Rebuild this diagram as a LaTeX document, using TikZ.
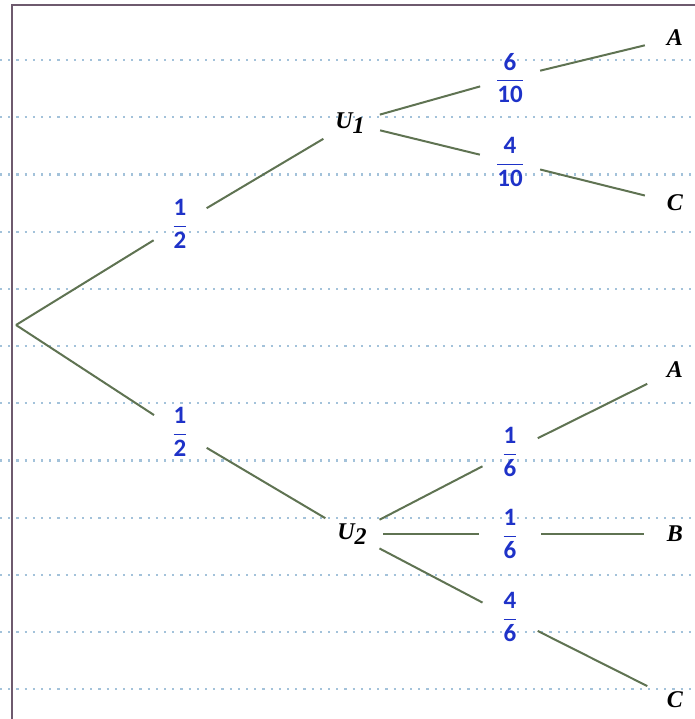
\documentclass[tikz,border=0pt]{standalone}
\usepackage{fontspec}
\setmainfont{Carlito}
\newfontfamily\evtfont{Liberation Serif}
\definecolor{branch}{HTML}{5F7352}
\definecolor{probblue}{HTML}{1E32C8}
\definecolor{ruled}{HTML}{A3C2DA}
\definecolor{framegray}{HTML}{6E5A6E}
\newcommand{\prob}[2]{$\displaystyle\frac{\textbf{#1}}{\textbf{#2}}$}

\begin{document}
\begin{tikzpicture}[
    x=0.5pt, y=-0.5pt,
    line width=1pt,
    every node/.style={circle, inner sep=0pt, minimum size=30pt},
    probnode/.style={probblue, font=\fontsize{12.5}{14}\selectfont},
    evtnode/.style={font=\evtfont\bfseries\itshape\fontsize{12}{14}\selectfont},
    branchline/.style={draw=branch, line width=1pt},
    ruledline/.style={draw=ruled, line width=1.1pt, dash pattern=on 1.1pt off 3pt},
  ]
  \useasboundingbox (0,0) rectangle (695,719);

  % ---------- Ruled paper ------------------------------------------------
  \foreach \k in {0,...,11}
    \draw[ruledline] (0,60+57.2*\k) -- (695,60+57.2*\k);
  \draw[draw=framegray, line width=1pt] (12,719) -- (12,5) -- (695,5);

  % ---------- Root and first level ---------------------------------------
  \coordinate (root) at (16,325);
  \node[probnode] (h1) at (180,224) {\prob{1}{2}};
  \node[probnode] (h2) at (180,432) {\prob{1}{2}};
  \node[evtnode] (u1) at (350,123) {U\raisebox{-0.5ex}{1}};
  \node[evtnode] (u2) at (352,534) {U\raisebox{-0.5ex}{2}};

  % ---------- Second level, urn 1 ----------------------------------------
  \node[probnode] (f11) at (510,78) {\prob{6}{10}};
  \node[probnode] (f12) at (510,162) {\prob{4}{10}};
  \node[evtnode] (a1) at (675,38) {A};
  \node[evtnode] (c1) at (675,203) {C};

  % ---------- Second level, urn 2 ----------------------------------------
  \node[probnode] (f21) at (510,452) {\prob{1}{6}};
  \node[probnode] (f22) at (510,534) {\prob{1}{6}};
  \node[probnode] (f23) at (510,617) {\prob{4}{6}};
  \node[evtnode] (a2) at (675,370) {A};
  \node[evtnode] (b2) at (675,534) {B};
  \node[evtnode] (c2) at (675,700) {C};

  % ---------- Branches ---------------------------------------------------
  \draw[branchline] (root) -- (h1);
  \draw[branchline] (h1) -- (u1);
  \draw[branchline] (root) -- (h2);
  \draw[branchline] (h2) -- (u2);

  \draw[branchline] (u1) -- (f11);
  \draw[branchline] (f11) -- (a1);
  \draw[branchline] (u1) -- (f12);
  \draw[branchline] (f12) -- (c1);

  \draw[branchline] (u2) -- (f21);
  \draw[branchline] (f21) -- (a2);
  \draw[branchline] (u2) -- (f22);
  \draw[branchline] (f22) -- (b2);
  \draw[branchline] (u2) -- (f23);
  \draw[branchline] (f23) -- (c2);

\end{tikzpicture}
\end{document}
